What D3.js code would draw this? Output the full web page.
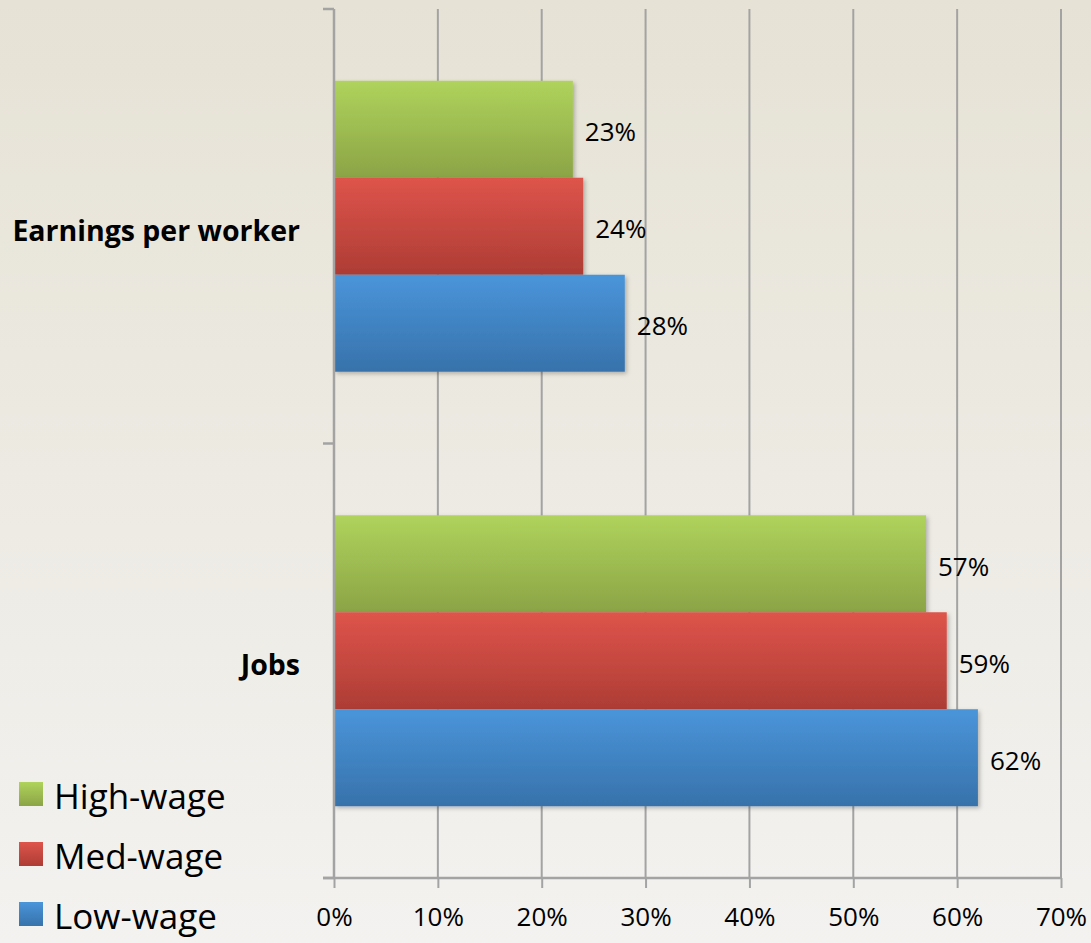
<!DOCTYPE html>
<html><head><meta charset="utf-8">
<script src="https://cdn.jsdelivr.net/npm/d3@7"></script>
<style>html,body{margin:0;padding:0;overflow:hidden;}</style>
</head><body>
<svg id="c" width="1091" height="943"></svg>
<script>
const categories = ["Earnings per worker", "Jobs"];
const seriesNames = ["High-wage", "Med-wage", "Low-wage"];
const highWage = [23, 57];
const medWage = [24, 59];
const lowWage = [28, 62];
const xTicks = [0, 10, 20, 30, 40, 50, 60, 70];

(function(){
const seriesValues = [highWage, medWage, lowWage];
const colors = [
  {top: "#afd35c", bot: "#8ba446"},
  {top: "#de544b", bot: "#ad3d35"},
  {top: "#4a95da", bot: "#3772ab"}
];
const FONT = "'Open Sans', sans-serif";

const svg = d3.select("#c");
const W = 1091, H = 943;
const defs = svg.append("defs");
const bg = defs.append("linearGradient").attr("id","bg").attr("x1",0).attr("y1",0).attr("x2",0).attr("y2",1);
bg.append("stop").attr("offset","0%").attr("stop-color","#e6e2d5");
bg.append("stop").attr("offset","100%").attr("stop-color","#f3f2f0");
svg.append("rect").attr("width",W).attr("height",H).attr("fill","url(#bg)");

colors.forEach((c,i)=>{
  const g = defs.append("linearGradient").attr("id","g"+i).attr("x1",0).attr("y1",0).attr("x2",0).attr("y2",1);
  g.append("stop").attr("offset","0%").attr("stop-color",c.top);
  g.append("stop").attr("offset","100%").attr("stop-color",c.bot);
});
const f = defs.append("filter").attr("id","sh").attr("x","-10%").attr("y","-10%").attr("width","130%").attr("height","130%");
f.append("feDropShadow").attr("dx",2).attr("dy",2).attr("stdDeviation",2).attr("flood-color","#000").attr("flood-opacity",0.25);

const pl = 334, pr = 1061, pt = 9, pb = 878;
const x = d3.scaleLinear().domain([0,70]).range([pl,pr]);
const y = d3.scaleBand().domain(categories).range([pt,pb]).paddingInner(0).paddingOuter(0);
const yInner = d3.scaleBand().domain(seriesNames).range([0, y.bandwidth()]).paddingInner(0).paddingOuter(0.74);

// gridlines
svg.append("g").selectAll("line").data(xTicks.filter(d=>d>0)).join("line")
  .attr("x1",d=>x(d)).attr("x2",d=>x(d)).attr("y1",pt).attr("y2",pb)
  .attr("stroke","#a3a3a3").attr("stroke-width",2);

// bars
const gBars = svg.append("g");
categories.forEach((cat,ci)=>{
  seriesNames.forEach((s,si)=>{
    const v = seriesValues[si][ci];
    const yy = y(cat) + yInner(s);
    gBars.append("rect")
      .attr("x", x(0)).attr("y", yy)
      .attr("width", x(v)-x(0)).attr("height", yInner.bandwidth())
      .attr("fill","url(#g"+si+")").attr("filter","url(#sh)");
    gBars.append("text")
      .attr("x", x(v)+12).attr("y", yy + yInner.bandwidth()/2 + 3)
      .attr("dy","0.35em")
      .attr("font-family",FONT).attr("font-size",26)
      .attr("fill","#000").text(v+"%");
  });
});

// axes
const xAxis = d3.axisBottom(x).tickValues(xTicks).tickFormat(d=>d+"%").tickSize(10).tickPadding(20);
const gx = svg.append("g").attr("transform",`translate(0,${pb})`).call(xAxis);
gx.select(".domain").attr("d",`M${pl-11},0H${pr}`).attr("stroke","#a3a3a3").attr("stroke-width",2.5);
gx.selectAll(".tick line").attr("stroke","#a3a3a3").attr("stroke-width",2);
gx.selectAll(".tick text").attr("font-family",FONT).attr("font-size",26).attr("fill","#000");

const yAxis = d3.axisLeft(y).tickSize(0).tickPadding(34);
const gy = svg.append("g").attr("transform",`translate(${pl},0)`).call(yAxis);
gy.select(".domain").attr("d",`M0,${pt}V${pb}`).attr("stroke","#a3a3a3").attr("stroke-width",2.5);
gy.selectAll(".tick text").attr("font-family",FONT).attr("font-size",28.5).attr("font-weight","bold").attr("fill","#000").attr("dy","0.5em");
// category boundary ticks
svg.append("g").selectAll("line").data([pt, y(categories[1]), pb]).join("line")
  .attr("x1",pl-11).attr("x2",pl).attr("y1",d=>d).attr("y2",d=>d)
  .attr("stroke","#a3a3a3").attr("stroke-width",2.5);

// legend
const leg = svg.append("g");
seriesNames.forEach((s,i)=>{
  const cy = 794 + i*60;
  leg.append("rect").attr("x",19).attr("y",cy-12).attr("width",24).attr("height",24).attr("fill","url(#g"+i+")");
  leg.append("text").attr("x",54).attr("y",cy+2).attr("dy","0.36em")
    .attr("font-family",FONT).attr("font-size",35).attr("fill","#000").text(s);
});
})();
</script>
</body></html>
